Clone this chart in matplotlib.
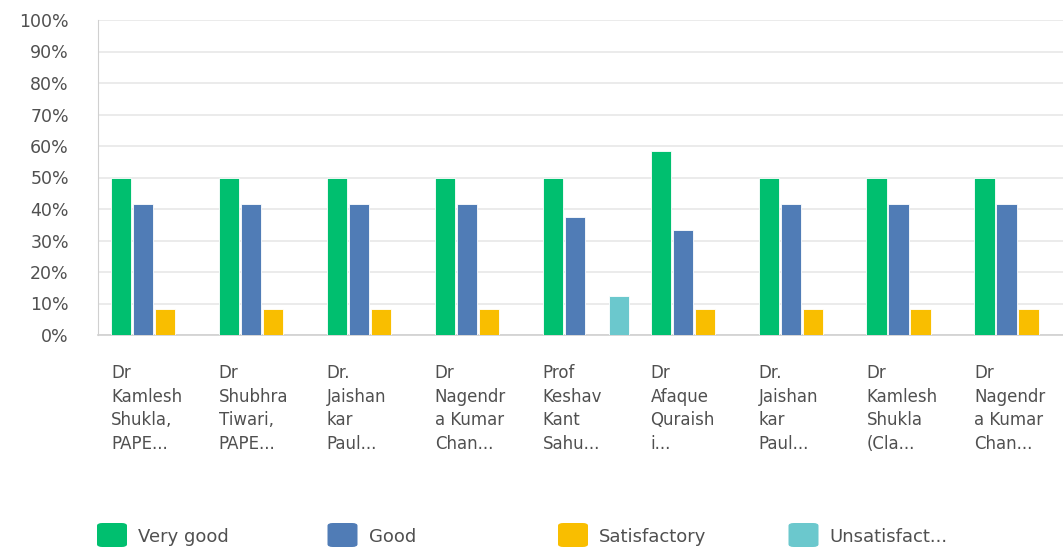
import matplotlib.pyplot as plt
import numpy as np
from matplotlib.patches import FancyBboxPatch
from matplotlib.ticker import PercentFormatter

categories = [
    "Dr\nKamlesh\nShukla,\nPAPE...",
    "Dr\nShubhra\nTiwari,\nPAPE...",
    "Dr.\nJaishan\nkar\nPaul...",
    "Dr\nNagendr\na Kumar\nChan...",
    "Prof\nKeshav\nKant\nSahu...",
    "Dr\nAfaque\nQuraish\ni...",
    "Dr.\nJaishan\nkar\nPaul...",
    "Dr\nKamlesh\nShukla\n(Cla...",
    "Dr\nNagendr\na Kumar\nChan...",
]
series = ["Very good", "Good", "Satisfactory", "Unsatisfact..."]
very_good = [50, 50, 50, 50, 50, 58.33, 50, 50, 50]
good = [41.67, 41.67, 41.67, 41.67, 37.5, 33.33, 41.67, 41.67, 41.67]
satisfactory = [8.33, 8.33, 8.33, 8.33, 0, 8.33, 8.33, 8.33, 8.33]
unsatisfactory = [0, 0, 0, 0, 12.5, 0, 0, 0, 0]
colors = ["#00BF6F", "#507CB6", "#F9BE00", "#6BC8CD"]

plt.rcParams["font.family"] = "DejaVu Sans"
fig = plt.figure(figsize=(10.63, 5.47), dpi=100)
ax = fig.add_axes([98 / 1063, 1 - 335 / 547, 1 - 98 / 1063, 315 / 547])

x = np.arange(len(categories))
step = 0.2037
width = 0.19
for k, vals in enumerate([very_good, good, satisfactory, unsatisfactory]):
    ax.bar(x + (k - 1.5) * step, vals, width, color=colors[k],
           edgecolor="white", linewidth=0.6, zorder=3)

ax.set_ylim(0, 100)
ax.set_xlim(-0.52, 8.42)
ax.set_yticks(np.arange(0, 101, 10))
ax.yaxis.set_major_formatter(PercentFormatter(decimals=0))
ax.grid(axis="y", color="#e8e8e8", linewidth=1.2, zorder=0)
for s in ["top", "right"]:
    ax.spines[s].set_visible(False)
ax.spines["left"].set_color("#d0d0d0")
ax.spines["bottom"].set_color("#d0d0d0")
ax.spines["bottom"].set_linewidth(1.2)
ax.tick_params(axis="y", length=0, pad=21, labelsize=12.5, labelcolor="#505050")
ax.tick_params(axis="x", length=0)
ax.set_xticks([])

for i, lab in enumerate(categories):
    ax.annotate(lab, xy=(i - 1.5 * step - width / 2, 0), xycoords="data",
                xytext=(0, -21), textcoords="offset points",
                ha="left", va="top", fontsize=12, color="#505050",
                linespacing=1.4, annotation_clip=False)

# legend
for k, name in enumerate(series):
    x0 = (97 + 230.5 * k) / 1063
    y0 = 1 - 547 / 547
    box = FancyBboxPatch((x0, y0), 30 / 1063, 24 / 547,
                         boxstyle="round,pad=0,rounding_size=0.005",
                         transform=fig.transFigure, facecolor=colors[k],
                         edgecolor="none")
    fig.patches.append(box)
    fig.text(x0 + 41 / 1063, 10 / 547, name, ha="left", va="center",
             fontsize=13, color="#505050")

fig.savefig("out.png", dpi=100)
